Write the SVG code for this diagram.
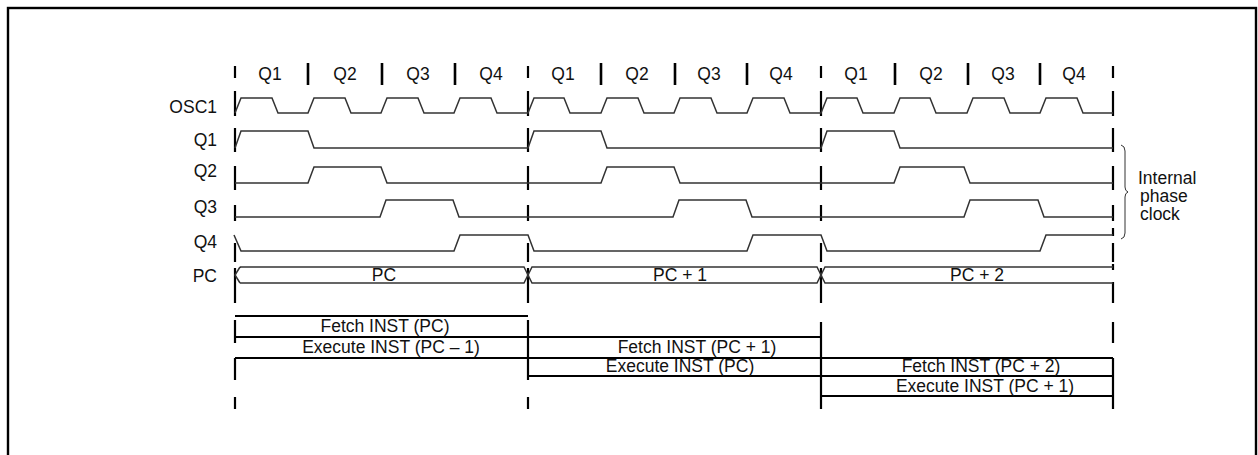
<svg xmlns="http://www.w3.org/2000/svg" width="1258" height="455" viewBox="0 0 1258 455">
<style>
text{font-family:"Liberation Sans",Arial,sans-serif;font-size:17.5px;fill:#111}
.lbl{text-anchor:end}
.mid{text-anchor:middle}
.wave{fill:none;stroke:#333;stroke-width:1.5;stroke-linejoin:miter}
.bnd{stroke:#000;stroke-width:2.2}
.qbar{stroke:#000;stroke-width:2.6}
.box{fill:none;stroke:#000;stroke-width:2.2}
.brace{fill:none;stroke:#333;stroke-width:1}
</style>
<rect x="0" y="0" width="1258" height="455" fill="#fff"/>
<rect x="8" y="8" width="1248" height="460" fill="none" stroke="#000" stroke-width="2.4"/>

<g id="quarter-labels">
<text class="mid" x="270" y="80">Q1</text><text class="mid" x="345" y="80">Q2</text><text class="mid" x="418" y="80">Q3</text><text class="mid" x="491" y="80">Q4</text>
<text class="mid" x="563" y="80">Q1</text><text class="mid" x="637" y="80">Q2</text><text class="mid" x="709" y="80">Q3</text><text class="mid" x="781" y="80">Q4</text>
<text class="mid" x="856" y="80">Q1</text><text class="mid" x="931" y="80">Q2</text><text class="mid" x="1003" y="80">Q3</text><text class="mid" x="1074" y="80">Q4</text>
</g>
<g id="quarter-bars">
<path class="qbar" d="M308,63V85M382,63V85M455,63V85M601,63V85M675,63V85M747,63V85M895,63V85M968,63V85M1040,63V85"/>
</g>

<g id="row-labels">
<text class="lbl" x="217" y="113">OSC1</text>
<text class="lbl" x="217" y="146">Q1</text>
<text class="lbl" x="217" y="177">Q2</text>
<text class="lbl" x="217" y="213">Q3</text>
<text class="lbl" x="217" y="248">Q4</text>
<text class="lbl" x="217" y="282">PC</text>
</g>

<g id="boundaries">
<path class="bnd" d="M235,66V78M235,91V116M235,128V152M235,166V190M235,205V221M235,243V262M235,268V303M235,320V343M235,358V380M235,397V409"/>
<path class="bnd" d="M528,66V78M528,91V116M528,128V152M528,166V190M528,205V221M528,243V262M528,268V303M528,320V380M528,397V409"/>
<path class="bnd" d="M821,66V78M821,91V116M821,128V152M821,166V190M821,205V221M821,243V262M821,268V303M821,322V409"/>
<path class="bnd" d="M1113,66V78M1113,91V116M1113,128V152M1113,166V190M1113,205V221M1113,228V236M1113,243V262M1113,264V270M1113,282V303M1113,322V343M1113,358V409"/>
</g>

<g id="OSC1">
<path class="wave" d="M235,113 L241,98 H272 L278,113 H308 L314,98 H345 L351,113 H381 L387,98 H418 L424,113 H454 L460,98 H491 L497,113 H528 L534,98 H564 L570,113 H601 L607,98 H638 L644,113 H674 L680,98 H711 L717,113 H747 L753,98 H784 L790,113 H821 L827,98 H857 L863,113 H894 L900,98 H930 L936,113 H967 L973,98 H1004 L1010,113 H1040 L1046,98 H1077 L1083,113 H1113"/>
</g>
<g id="Q1">
<path class="wave" d="M235,148 L241,131 H308 L314,148 H528 L534,131 H601 L607,148 H821 L827,131 H894 L900,148 H1113"/>
</g>
<g id="Q2">
<path class="wave" d="M235,183 H308 L314,167 H381 L387,183 H601 L607,167 H674 L680,183 H894 L900,167 H964 L970,183 H1113"/>
</g>
<g id="Q3">
<path class="wave" d="M235,217 H380 L386,200 H453 L459,217 H673 L679,200 H746 L752,217 H964 L970,200 H1038 L1044,217 H1113"/>
</g>
<g id="Q4">
<path class="wave" d="M234,235 L241,251 H454 L460,235 H528 L534,251 H747 L753,235 H821 L827,251 H1040 L1046,235 H1113"/>
</g>
<g id="PC">
<path class="wave" d="M240,267 L235,275 L240,283 M240,267 H524 L532,283 H817 L825,267 H1113 M240,283 H524 L532,267 H817 L825,283 H1113"/>
<text class="mid" x="384" y="281">PC</text>
<text class="mid" x="680" y="281">PC + 1</text>
<text class="mid" x="977" y="281">PC + 2</text>
</g>

<g id="internal-phase-clock">
<path class="brace" d="M1121,145 Q1125,146 1125,151 V187 Q1125,191 1128,192 Q1125,193 1125,197 V233 Q1125,238 1121,239"/>
<text x="1138" y="184">Internal</text>
<text x="1140" y="202">phase</text>
<text x="1140" y="220">clock</text>
</g>

<g id="pipeline">
<path class="box" d="M235,316 H528 M235,337 H821 M235,358 H1113 M528,376 H1113 M821,396 H1113"/>
<text class="mid" x="385" y="332">Fetch INST (PC)</text>
<text class="mid" x="391" y="353">Execute INST (PC – 1)</text>
<text class="mid" x="697" y="353">Fetch INST (PC + 1)</text>
<text class="mid" x="680" y="372">Execute INST (PC)</text>
<text class="mid" x="981" y="372">Fetch INST (PC + 2)</text>
<text class="mid" x="985" y="392">Execute INST (PC + 1)</text>
</g>
</svg>
